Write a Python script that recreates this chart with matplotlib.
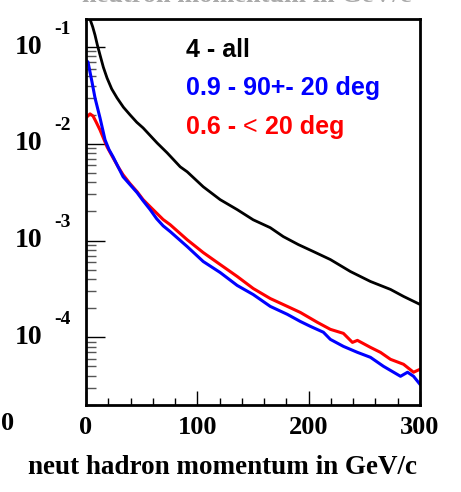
import matplotlib
matplotlib.use("Agg")
import matplotlib.pyplot as plt
import matplotlib.transforms as mtransforms
from matplotlib.ticker import FixedLocator, LogLocator, NullFormatter, MultipleLocator

# ---- data ----
x_all = [0.9, 3.6, 6.0, 8.1, 10.2, 12.6, 15.6, 18.9, 23.1, 27.9, 33.6, 39.6, 45.6, 51.3, 57.6,
         63.9, 72.9, 84.6, 90.9, 105.3, 120.5, 135.8, 150.2, 165.5, 177.2, 190.7, 204.2, 219.5,
         237.5, 255.5, 273.5, 285.2, 300.0]
y_all = [2.6e-1, 1.94e-1, 1.62e-1, 1.33e-1, 1.05e-1, 8.28e-2, 6.18e-2, 4.79e-2, 3.69e-2, 2.98e-2,
         2.39e-2, 1.99e-2, 1.67e-2, 1.46e-2, 1.22e-2, 1.02e-2, 8.07e-3, 5.79e-3, 5.14e-3, 3.60e-3,
         2.65e-3, 2.09e-3, 1.64e-3, 1.36e-3, 1.10e-3, 9.10e-4, 7.71e-4, 6.37e-4, 4.79e-4, 3.78e-4,
         3.13e-4, 2.65e-4, 2.19e-4]

x_90 = [0.5, 1.8, 5.4, 8.1, 12.6, 17.1, 20.7, 24.3, 28.8, 33.3, 39.6, 45.9, 51.3, 57.6, 63.5, 69.3,
        75.6, 90.9, 105.3, 120.5, 135.8, 150.2, 165.5, 180.8, 192.5, 201.5, 213.2, 219.5, 231.2,
        243.8, 255.5, 267.2, 282.5, 288.8, 294.2, 300.0]
y_90 = [7.2e-2, 7.0e-2, 4.35e-2, 2.98e-2, 1.85e-2, 1.10e-2, 8.7e-3, 7.34e-3, 5.79e-3, 4.57e-3,
        3.78e-3, 3.13e-3, 2.58e-3, 2.09e-3, 1.68e-3, 1.42e-3, 1.24e-3, 8.67e-4, 6.08e-4, 4.68e-4,
        3.44e-4, 2.77e-4, 2.09e-4, 1.73e-4, 1.46e-4, 1.30e-4, 1.13e-4, 9.53e-5, 8.07e-5, 7.00e-5,
        6.22e-5, 5.02e-5, 3.96e-5, 4.36e-5, 3.96e-5, 3.27e-5]

x_20 = [0.9, 3.6, 6.3, 9.0, 12.6, 18.9, 24.3, 28.8, 33.3, 39.6, 45.9, 51.3, 57.6, 69.3, 75.6, 90.9,
        105.3, 120.5, 135.8, 150.2, 165.5, 180.8, 192.5, 207.8, 219.5, 231.2, 239.3, 243.8, 255.5,
        264.5, 273.5, 285.2, 294.2, 300.0]
y_20 = [1.90e-2, 2.04e-2, 1.94e-2, 1.69e-2, 1.39e-2, 9.31e-3, 7.17e-3, 5.8e-3, 4.79e-3, 3.87e-3,
        3.20e-3, 2.65e-3, 2.24e-3, 1.65e-3, 1.46e-3, 1.02e-3, 7.52e-4, 5.66e-4, 4.26e-4, 3.20e-4,
        2.52e-4, 2.09e-4, 1.81e-4, 1.43e-4, 1.21e-4, 1.10e-4, 8.87e-5, 9.31e-5, 7.88e-5, 7.00e-5,
        5.93e-5, 5.27e-5, 4.36e-5, 4.68e-5]

x_ticks = [0, 100, 200, 300]
y_decades = [-1, -2, -3, -4]
legend_lines = [("4 - all", "black"), ("0.9 - 90+- 20 deg", "blue")]

# ---- figure ----
fig = plt.figure(figsize=(4.61, 4.92), dpi=100)
ax = fig.add_axes([86 / 461, 1 - 405 / 492, 334 / 461, 386 / 492])

ax.plot(x_all, y_all, color="black", lw=2.0, solid_joinstyle="round")
ax.plot(x_20, y_20, color="red", lw=2.2, solid_joinstyle="round")
ax.plot(x_90, y_90, color="blue", lw=2.2, solid_joinstyle="round")

ax.set_yscale("log")
ax.set_xlim(0, 300)
ax.set_ylim(2.0e-5, 0.195)

for s in ax.spines.values():
    s.set_linewidth(2.0)

serif = "Liberation Serif"
ax.xaxis.set_major_locator(FixedLocator(x_ticks))
ax.xaxis.set_minor_locator(MultipleLocator(20))
ax.set_xticklabels([str(v) for v in x_ticks], fontfamily=serif, fontweight="bold", fontsize=19)
ax.tick_params(axis="x", which="major", direction="in", length=10, width=1.0, pad=8, top=False)
ax.tick_params(axis="x", which="minor", direction="in", length=5, width=1.0, top=False)

ax.yaxis.set_major_locator(LogLocator(base=10, numticks=10))
ax.yaxis.set_minor_locator(LogLocator(base=10, subs=range(2, 10), numticks=20))
ax.yaxis.set_major_formatter(NullFormatter())
ax.yaxis.set_minor_formatter(NullFormatter())
ax.tick_params(axis="y", which="major", direction="in", length=14, width=1.0, right=False)
ax.tick_params(axis="y", which="minor", direction="in", length=7, width=1.0, color="#555555", right=False)

# ROOT-style y labels: "10" with raised exponent
btrans = mtransforms.blended_transform_factory(ax.transAxes, ax.transData)
exp_trans = mtransforms.offset_copy(btrans, fig=fig, x=0, y=18, units="dots")
for d in y_decades:
    ax.text(-0.132, 10.0 ** d, "10", transform=btrans, ha="right", va="center",
            fontfamily=serif, fontweight="bold", fontsize=20, clip_on=False)
    ax.text(-0.095, 10.0 ** d, str(d), transform=exp_trans, ha="left", va="center",
            fontfamily=serif, fontweight="bold", fontsize=14, clip_on=False)

# stray "0" at left
fig.text(8 / 461, 1 - 424 / 492, "0", ha="center", va="center",
         fontfamily=serif, fontweight="bold", fontsize=19)

# x axis title
fig.text(222 / 461, 1 - 467 / 492, "neut hadron momentum in GeV/c", ha="center", va="center",
         fontfamily=serif, fontweight="bold", fontsize=19.5)

# cut-off title at the very top (only its lower edge shows, as in the reference)
fig.text(247 / 461, 1 - 1.5 / 492, "neutron momentum in GeV/c", ha="center", va="baseline",
         fontfamily=serif, fontweight="bold", fontsize=19, color="#aaaaaa")

# legend text
sans = "Liberation Sans"
ys = [0.920, 0.821]
for (txt, col), yy in zip(legend_lines, ys):
    ax.text(0.299, yy, txt, transform=ax.transAxes, color=col, ha="left", va="center",
            fontfamily=sans, fontweight="bold", fontsize=18)
t1 = ax.text(0.299, 0.720, "0.6 - ", transform=ax.transAxes, color="red", ha="left", va="center",
             fontfamily=sans, fontweight="bold", fontsize=18)
t2 = ax.annotate("<", xy=(1, 0), xycoords=t1, ha="left", va="bottom", color="red",
                 fontfamily=sans, fontweight="normal", fontsize=18)
ax.annotate(" 20 deg", xy=(1, 0), xycoords=t2, ha="left", va="bottom", color="red",
            fontfamily=sans, fontweight="bold", fontsize=18)

fig.savefig("out.png", dpi=100)
